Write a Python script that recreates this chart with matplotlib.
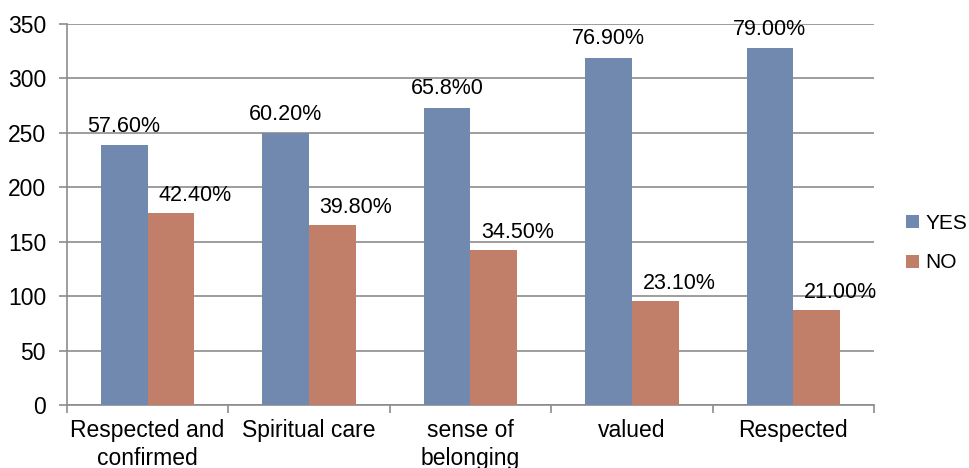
import numpy as np
import matplotlib
matplotlib.use('Agg')
import matplotlib.pyplot as plt

plt.rcParams['font.family'] = ['Liberation Sans', 'DejaVu Sans']

categories = ['Respected and\nconfirmed', 'Spiritual care', 'sense of\nbelonging',
              'valued', 'Respected']
yes_values = [239, 250, 273, 319, 328]
no_values = [176, 165, 142, 96, 87]
yes_labels = ['57.60%', '60.20%', '65.8%0', '76.90%', '79.00%']
no_labels = ['42.40%', '39.80%', '34.50%', '23.10%', '21.00%']

YES_COLOR = '#7189AF'
NO_COLOR = '#C17F69'
GRID = '#8C8C8C'

fig = plt.figure(figsize=(9.69, 4.68), dpi=100)
ax = fig.add_axes([0.069, 0.1346, 0.833, 0.8141])

x = np.arange(len(categories))
w = 0.29
ax.bar(x - w / 2, yes_values, w, color=YES_COLOR, label='YES', zorder=3)
ax.bar(x + w / 2, no_values, w, color=NO_COLOR, label='NO', zorder=3)

fs = 15.5
for i in range(len(categories)):
    ax.annotate(yes_labels[i], (x[i] - w / 2, yes_values[i]), xytext=(0, 6),
                textcoords='offset points', ha='center', va='bottom',
                fontsize=fs, zorder=4)
    ax.annotate(no_labels[i], (x[i] + w / 2, no_values[i]), xytext=(17, 5),
                textcoords='offset points', ha='center', va='bottom',
                fontsize=fs, zorder=4)

ax.set_xlim(-0.5, len(categories) - 0.5)
ax.set_ylim(0, 350)
ax.set_yticks(range(0, 351, 50))
ax.yaxis.grid(True, color=GRID, linewidth=1.2, zorder=0)
ax.set_axisbelow(True)

# category boundary ticks on x axis
ax.set_xticks(np.arange(-0.5, len(categories), 1.0))
ax.set_xticklabels([])
ax.set_xticks(x, minor=True)
ax.set_xticklabels(categories, minor=True, fontsize=16.5, linespacing=1.3)
ax.tick_params(axis='x', which='minor', length=0, pad=10)
ax.tick_params(axis='x', which='major', length=6, color=GRID, width=1.2)
ax.tick_params(axis='y', length=6, color=GRID, width=1.2, labelsize=16.5, pad=9)

for s in ['top', 'right']:
    ax.spines[s].set_visible(False)
for s in ['left', 'bottom']:
    ax.spines[s].set_color(GRID)
    ax.spines[s].set_linewidth(1.2)

leg = ax.legend(loc='center left', bbox_to_anchor=(1.04, 0.425), frameon=False,
                fontsize=15, handlelength=0.6, handleheight=0.6,
                handletextpad=0.3, labelspacing=1.0, borderpad=0, borderaxespad=0)

plt.savefig('out.png', dpi=100)
